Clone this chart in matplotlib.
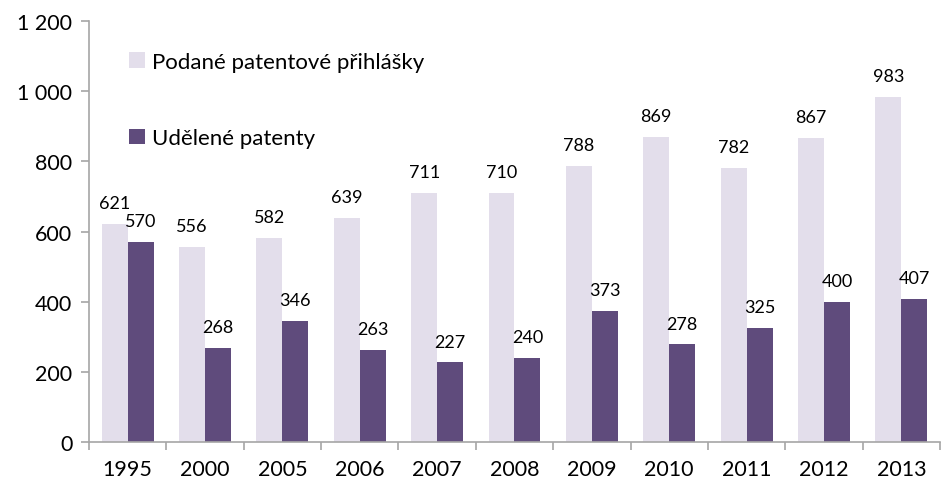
import matplotlib
matplotlib.use("Agg")
import matplotlib.pyplot as plt
from matplotlib.patches import Patch
import numpy as np

years = ["1995", "2000", "2005", "2006", "2007", "2008", "2009", "2010", "2011", "2012", "2013"]
applications = [621, 556, 582, 639, 711, 710, 788, 869, 782, 867, 983]
granted = [570, 268, 346, 263, 227, 240, 373, 278, 325, 400, 407]
series_names = ["Podané patentové přihlášky", "Udělené patenty"]
y_ticks = [0, 200, 400, 600, 800, 1000, 1200]

light = "#E3DEEB"
dark = "#5F4B7C"
axis_grey = "#A6A6A6"

plt.rcParams["font.family"] = ["Lato", "DejaVu Sans"]

fig = plt.figure(figsize=(9.46, 4.85), dpi=100)
ax = fig.add_axes([0.094, 0.0866, 0.8997, 0.868])

x = np.arange(len(years))
w = 0.335
b1 = ax.bar(x - w / 2, applications, width=w, color=light, zorder=2)
b2 = ax.bar(x + w / 2, granted, width=w, color=dark, zorder=2)

for bars, vals in ((b1, applications), (b2, granted)):
    for rect, v in zip(bars, vals):
        ax.annotate(str(v), (rect.get_x() + rect.get_width() / 2, v),
                    xytext=(0, 15), textcoords="offset points",
                    ha="center", va="center", fontsize=13, color="#000000")

ax.set_xlim(-0.5, len(years) - 0.5)
ax.set_ylim(0, 1200)
ax.set_yticks(y_ticks)
ax.set_yticklabels([f"{v:,}".replace(",", " ") for v in y_ticks], fontsize=15.5)
ax.set_xticks(x)
ax.set_xticklabels(years, fontsize=15.5)
ax.set_xticks(np.arange(len(years) + 1) - 0.5, minor=True)
ax.tick_params(axis="x", which="major", length=0, pad=12)
ax.tick_params(axis="x", which="minor", length=6, color=axis_grey, width=1.2)
ax.tick_params(axis="y", length=6, color=axis_grey, width=1.2, pad=6)

for side in ("top", "right"):
    ax.spines[side].set_visible(False)
for side in ("left", "bottom"):
    ax.spines[side].set_color(axis_grey)
    ax.spines[side].set_linewidth(1.2)

handles = [Patch(facecolor=light, edgecolor="none"), Patch(facecolor=dark, edgecolor="none")]
ax.legend(handles, series_names, loc="upper left", bbox_to_anchor=(0.024, 0.975),
          frameon=False, fontsize=16, handlelength=0.7, handleheight=0.7,
          handletextpad=0.3, labelspacing=2.55)

fig.savefig("out.png", dpi=100)
